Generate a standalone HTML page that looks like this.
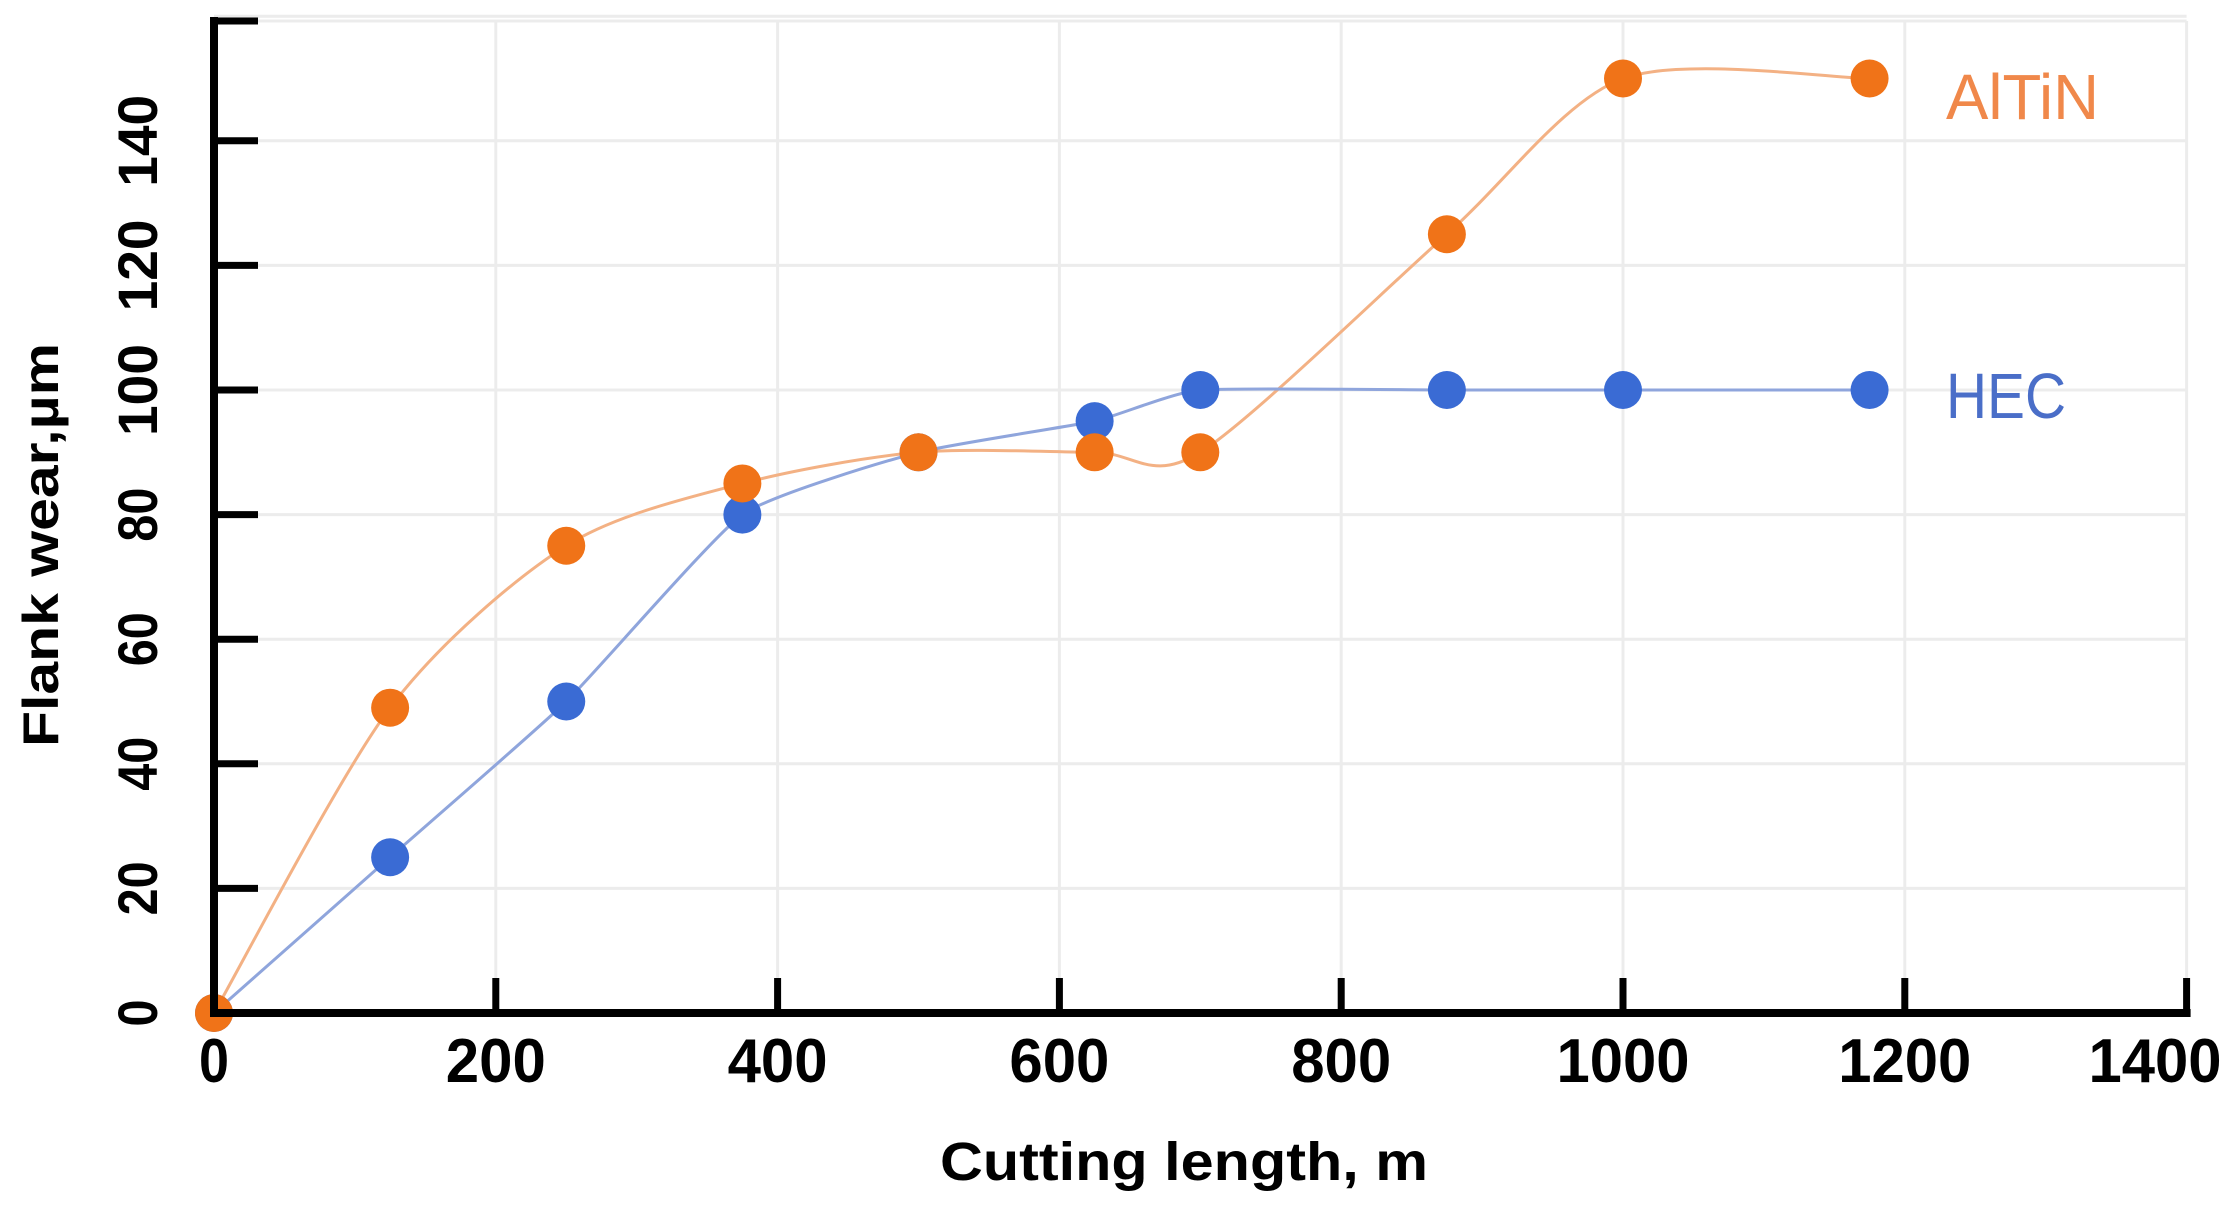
<!DOCTYPE html>
<html><head><meta charset="utf-8"><style>
html,body{margin:0;padding:0;background:#fff;}
svg{display:block;}
text{font-family:"Liberation Sans",Arial,sans-serif;}
</style></head><body>
<svg id="c" width="2231" height="1212" viewBox="0 0 2231 1212" xmlns="http://www.w3.org/2000/svg">
<g id="grid" stroke="#ececec" stroke-width="3"></g>
<g id="lines" fill="none"></g>
<g id="marks"></g>
<g id="axes" stroke="#000"></g>
<g id="labels" font-weight="bold" fill="#000"></g>
<text x="1946" y="119" font-size="64" fill="#f0884a" textLength="153" lengthAdjust="spacingAndGlyphs">AlTiN</text>
<text x="1946" y="418" font-size="64" fill="#4a6ec8" textLength="120" lengthAdjust="spacingAndGlyphs">HEC</text>
<text x="940" y="1180" font-size="54" font-weight="bold" textLength="488" lengthAdjust="spacingAndGlyphs">Cutting length, m</text>
<text transform="translate(58,747) rotate(-90)" x="0" y="0" font-size="50" font-weight="bold" textLength="404" lengthAdjust="spacingAndGlyphs">Flank wear,µm</text>
</svg>
<script>
var NS="http://www.w3.org/2000/svg";
function X(v){return 214+v*1.409;}
function Y(v){return 1013-v*6.23;}
function el(p,t,a,txt){var e=document.createElementNS(NS,t);for(var k in a)e.setAttribute(k,a[k]);if(txt!=null)e.textContent=txt;document.getElementById(p).appendChild(e);return e;}
for(var v=200;v<=1400;v+=200)el("grid","line",{x1:X(v),y1:21,x2:X(v),y2:1013});
for(var v=20;v<=160;v+=20){if(Y(v)<15)continue;el("grid","line",{x1:214,y1:Y(v),x2:X(1400),y2:Y(v)});}
el("grid","line",{x1:214,y1:21,x2:X(1400),y2:21});
var A=[[0,0],[125,49],[250,75],[375,85],[500,90],[625,90],[700,90],[875,125],[1000,150],[1175,150]];
var H=[[0,0],[125,25],[250,50],[375,80],[500,90],[625,95],[700,100],[875,100],[1000,100],[1175,100]];
function path(d,t){var p=d.map(function(q){return [X(q[0]),Y(q[1])];});var s="M"+p[0][0]+","+p[0][1];
for(var i=0;i<p.length-1;i++){var p0=p[i-1]||p[i],p1=p[i],p2=p[i+1],p3=p[i+2]||p2;
var c1=[p1[0]+(p2[0]-p0[0])*t,p1[1]+(p2[1]-p0[1])*t],c2=[p2[0]-(p3[0]-p1[0])*t,p2[1]-(p3[1]-p1[1])*t];
s+=" C"+c1[0]+","+c1[1]+" "+c2[0]+","+c2[1]+" "+p2[0]+","+p2[1];}return s;}
el("lines","path",{d:path(A,0.14),stroke:"#f3b184","stroke-width":3});
el("lines","path",{d:path(H,0.08),stroke:"#8fa5dc","stroke-width":3});
H.forEach(function(q){el("marks","circle",{cx:X(q[0]),cy:Y(q[1]),r:19,fill:"#3a6bd4"});});
A.forEach(function(q){el("marks","circle",{cx:X(q[0]),cy:Y(q[1]),r:19,fill:"#f07318"});});
el("axes","line",{x1:214,y1:17,x2:214,y2:1017,"stroke-width":8});
el("axes","line",{x1:210,y1:1013,x2:X(1400)+4,y2:1013,"stroke-width":8});
for(var v=20;v<=140;v+=20)el("axes","line",{x1:214,y1:Y(v),x2:258,y2:Y(v),"stroke-width":7});
el("axes","line",{x1:214,y1:21,x2:258,y2:21,"stroke-width":7});
for(var v=200;v<=1400;v+=200)el("axes","line",{x1:X(v),y1:978,x2:X(v),y2:1013,"stroke-width":7});
for(var v=0;v<=1400;v+=200){var s=String(v);var w={1:30,3:100,4:133}[s.length];var cx=X(v);if(v==1400)cx=2155;
el("labels","text",{x:cx,y:1082,"font-size":62,"text-anchor":"middle",textLength:w,lengthAdjust:"spacingAndGlyphs"},s);}
for(var v=0;v<=140;v+=20){var s=String(v);var w={1:27,2:54,3:92}[s.length];
el("labels","text",{transform:"translate(157,"+Y(v)+") rotate(-90)",x:0,y:0,"font-size":56,"text-anchor":"middle",textLength:w,lengthAdjust:"spacingAndGlyphs"},s);}
</script>
</body></html>
